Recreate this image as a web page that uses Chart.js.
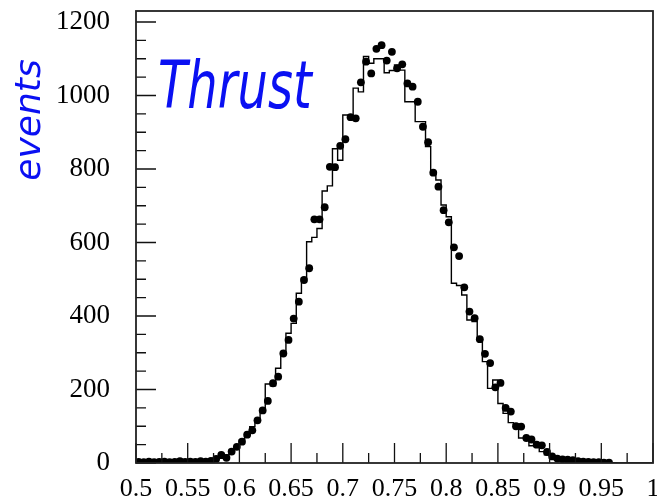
<!DOCTYPE html>
<html>
<head>
<meta charset="utf-8">
<script src="https://cdn.jsdelivr.net/npm/chart.js@4.4.1/dist/chart.umd.min.js"></script>
<style>
  html, body { margin: 0; padding: 0; background: #fff; }
  #wrap { width: 657px; height: 500px; }
</style>
</head>
<body>
<div id="wrap"><canvas id="thrust" width="657" height="500"></canvas></div>
<script>
// binning of the thrust histogram: 100 bins of 0.005 from 0.5 to 1.0
const binLo = 0.5;
const binWidth = 0.005;

// simulated distribution (step histogram), one entry per bin
const mcCounts = [
  2, 3, 2, 3, 3, 2, 3, 3, 4, 3,
  3, 4, 3, 4, 5, 8, 10, 13, 22, 35,
  44, 63, 76, 99, 117, 140, 215, 210, 258, 300,
  353, 380, 462, 503, 602, 614, 638, 740, 754, 855,
  824, 947, 945, 1020, 1010, 1106, 1088, 1100, 1100, 1062,
  1068, 1083, 1069, 983, 983, 929, 929, 861, 793, 770,
  702, 670, 489, 483, 457, 389, 385, 340, 276, 203,
  226, 162, 135, 110, 105, 68, 66, 47, 45, 31,
  22, 12, 10, 9, 8, 5, 4, 3, 2, 2,
  1, 1, 1, 1, 0, 0, 0, 0, 0, 0
];

// measured events (dots), one entry per bin
const dataCounts = [
  3, 2, 4, 2, 3, 4, 2, 3, 5, 3,
  4, 3, 5, 4, 6, 11, 22, 14, 31, 44,
  58, 77, 89, 116, 143, 169, 217, 235, 298, 335,
  393, 439, 498, 530, 663, 663, 696, 806, 805, 863,
  881, 941, 938, 1036, 1092, 1060, 1127, 1137, 1095, 1119,
  1074, 1085, 1033, 1024, 983, 915, 873, 790, 752, 688,
  655, 587, 563, 478, 412, 394, 337, 297, 272, 206,
  218, 150, 140, 100, 99, 68, 64, 50, 48, 30,
  18, 12, 10, 9, 8, 5, 4, 3, 2, 2,
  1, 1, 0, 0, 0, 0, 0, 0, 0, 0
];

const yLabelStep = 200;
const xLabelStep = 0.05;

// histogram outline: left bin edges, closed at the right edge
const mcSteps = mcCounts.map((c, i) => ({ x: binLo + i * binWidth, y: c }));
mcSteps.push({ x: binLo + mcCounts.length * binWidth, y: mcCounts[mcCounts.length - 1] });

// data points sit at bin centres; empty bins are left out
const dataPoints = dataCounts
  .map((c, i) => ({ x: binLo + (i + 0.5) * binWidth, y: c }))
  .filter((p) => p.y > 0);

// tick marks drawn inwards plus the closed frame
const frameTicks = {
  id: "frameTicks",
  afterDatasetsDraw(chart) {
    const { ctx, chartArea: a, scales } = chart;
    const x = scales.x, y = scales.y;
    ctx.save();
    ctx.strokeStyle = "#111";
    ctx.lineWidth = 1.3;
    ctx.beginPath();
    y.ticks.forEach((t) => {
      const py = y.getPixelForValue(t.value);
      const len = t.value % yLabelStep === 0 ? 20 : 10;
      ctx.moveTo(a.left, py);
      ctx.lineTo(a.left + len, py);
    });
    x.ticks.forEach((t) => {
      const px = x.getPixelForValue(t.value);
      const major = Math.round(t.value * 1000) % Math.round(xLabelStep * 1000) === 0;
      ctx.moveTo(px, a.bottom);
      ctx.lineTo(px, a.bottom - (major ? 20 : 10));
    });
    ctx.stroke();
    ctx.lineWidth = 1.8;
    ctx.strokeStyle = "#222";
    ctx.strokeRect(a.left, a.top, a.right - a.left, a.bottom - a.top);
    ctx.restore();
  },
};

// hand-lettered captions in blue
const captions = {
  id: "captions",
  afterDraw(chart) {
    const { ctx } = chart;
    ctx.save();
    ctx.fillStyle = "#0a10f2";

    ctx.save();
    ctx.translate(158, 108);
    ctx.scale(0.8, 1.1);
    ctx.font = "oblique 60px 'DejaVu Sans'";
    ctx.textBaseline = "alphabetic";
    ctx.fillText("Thrust", 0, 0);
    ctx.restore();

    ctx.save();
    ctx.translate(40, 120);
    ctx.rotate(-Math.PI / 2);
    ctx.font = "oblique 36px 'DejaVu Sans'";
    ctx.textAlign = "center";
    ctx.textBaseline = "alphabetic";
    ctx.fillText("events", 0, 0);
    ctx.restore();

    ctx.restore();
  },
};

// keep the plot box fixed: no extra room for overhanging tick labels
const noLabelPadding = (s) => {
  s.paddingTop = 0;
  s.paddingBottom = 0;
  s.paddingLeft = 0;
  s.paddingRight = 0;
};

Chart.defaults.font.family = "'Liberation Serif', serif";
Chart.defaults.color = "#000";

const ctx = document.getElementById("thrust").getContext("2d");
new Chart(ctx, {
  type: "scatter",
  data: {
    datasets: [
      {
        label: "data",
        data: dataPoints,
        backgroundColor: "#000",
        borderColor: "#000",
        pointRadius: 3.9,
        pointBorderWidth: 0,
        showLine: false,
      },
      {
        label: "simulation",
        type: "line",
        data: mcSteps,
        stepped: "after",
        borderColor: "#000",
        borderWidth: 1.4,
        pointRadius: 0,
        fill: false,
      },
    ],
  },
  options: {
    responsive: false,
    animation: false,
    layout: { padding: { left: 0, top: 11, right: 3, bottom: 0 } },
    plugins: {
      legend: { display: false },
      tooltip: { enabled: false },
    },
    scales: {
      x: {
        type: "linear",
        min: 0.5,
        max: 1.0,
        grid: { display: false, drawTicks: false },
        border: { display: false },
        afterFit: (s) => { s.height = 37; noLabelPadding(s); },
        ticks: {
          stepSize: 0.025,
          autoSkip: false,
          maxRotation: 0,
          minRotation: 0,
          padding: 11,
          font: { size: 26 },
          callback: (v) => {
            const m = Math.round(v * 1000);
            return m % 50 === 0 ? String(m / 1000) : "";
          },
        },
      },
      y: {
        min: 0,
        max: 1230,
        grid: { display: false, drawTicks: false },
        border: { display: false },
        afterFit: (s) => { s.width = 136; noLabelPadding(s); },
        ticks: {
          stepSize: 50,
          includeBounds: false,
          autoSkip: false,
          padding: 26,
          font: { size: 27 },
          callback: (v) => (v % yLabelStep === 0 ? String(v) : ""),
        },
      },
    },
  },
  plugins: [frameTicks, captions],
});
</script>
</body>
</html>
